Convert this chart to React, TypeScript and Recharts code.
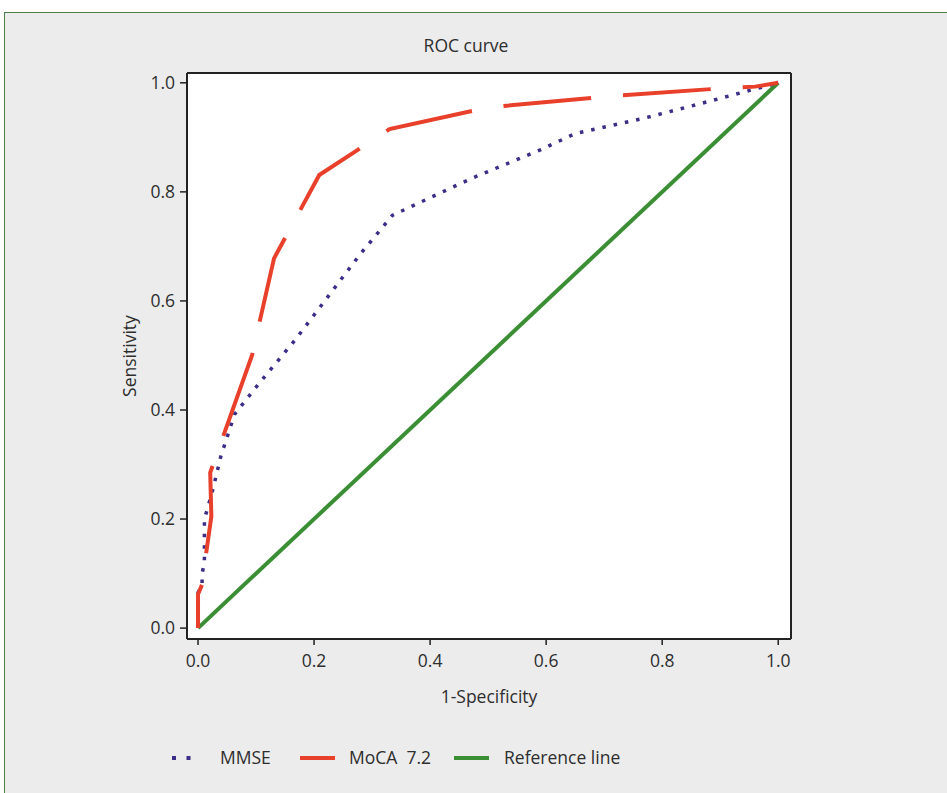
import React from "react";
import {
  LineChart,
  Line,
  XAxis,
  YAxis,
  CartesianGrid,
  Label,
} from "recharts";

// ROC vertices (1-specificity, sensitivity)
const mmseFpr = [0, 0, 0.007, 0.007, 0.011, 0.011, 0.016, 0.026, 0.039, 0.063, 0.107, 0.167, 0.279, 0.335, 0.472, 0.59, 0.65, 0.765, 0.863, 1];
const mmseTpr = [0, 0.065, 0.08, 0.1, 0.12, 0.2, 0.218, 0.256, 0.314, 0.392, 0.451, 0.528, 0.685, 0.757, 0.825, 0.877, 0.907, 0.934, 0.961, 1];

const mocaFpr = [0, 0, 0.007, 0.013, 0.023, 0.021, 0.093, 0.131, 0.209, 0.33, 0.5, 0.73, 0.905, 0.96, 1];
const mocaTpr = [0, 0.062, 0.08, 0.13, 0.205, 0.285, 0.5, 0.678, 0.831, 0.915, 0.955, 0.977, 0.99, 0.993, 1];

const refFpr = [0, 1];
const refTpr = [0, 1];

const axisTicks = [0, 0.2, 0.4, 0.6, 0.8, 1.0];

const seriesNames = ["MMSE", "MoCA  7.2", "Reference line"];
const seriesColors = ["#3b2d88", "#e8402a", "#3a8f34"];

const toPoints = (xs: number[], ys: number[]) =>
  xs.map((x, i) => ({ x, y: ys[i] }));

const mmseData = toPoints(mmseFpr, mmseTpr);
const mocaData = toPoints(mocaFpr, mocaTpr);
const refData = toPoints(refFpr, refTpr);

const FONT = '"Open Sans", "Noto Sans", sans-serif';
const FS = 17.5;
const TEXT = "#2e2e2e";
const X_DOMAIN = [-0.019, 1.022];
const Y_DOMAIN = [-0.02, 1.018];

function LegendRow() {
  const sampleX = [172, 300, 454];
  const labelX = [220, 349, 504];
  return (
    <svg width={947} height={26} style={{ position: "absolute", left: 0, top: 745 }}>
      {sampleX.map((x, i) => (
        <line
          key={seriesNames[i]}
          x1={x}
          x2={x + (i === 0 ? 29 : 35)}
          y1={13}
          y2={13}
          stroke={seriesColors[i]}
          strokeWidth={4}
          strokeDasharray={i === 0 ? "4 10.5" : undefined}
        />
      ))}
      {seriesNames.map((name, i) => (
        <text
          key={name}
          x={labelX[i]}
          y={19}
          fill={TEXT}
          fontSize={FS}
          fontFamily={FONT}
          style={{ whiteSpace: "pre" }}
        >
          {name}
        </text>
      ))}
    </svg>
  );
}

export default function App() {
  return (
    <div
      style={{
        position: "absolute",
        left: 0,
        top: 0,
        width: 947,
        height: 793,
        overflow: "hidden",
        background: "#ffffff",
        fontFamily: FONT,
      }}
    >
      {/* grey panel */}
      <div
        style={{
          position: "absolute",
          left: 4,
          top: 12,
          width: 960,
          height: 800,
          background: "#ebeceb",
          borderLeft: "1px solid #4f7f4f",
          borderTop: "1px solid #4f7f4f",
        }}
      />

      <div
        style={{
          position: "absolute",
          left: 0,
          top: 33,
          width: 932,
          textAlign: "center",
          fontSize: FS,
          color: TEXT,
        }}
      >
        ROC curve
      </div>

      <div style={{ position: "absolute", left: 0, top: 0 }}>
        <LineChart
          width={947}
          height={793}
          margin={{ top: 73, right: 156, bottom: 0, left: 0 }}
        >
          <CartesianGrid horizontal={false} vertical={false} fill="#ffffff" />

          <XAxis
            xAxisId="bottom"
            type="number"
            dataKey="x"
            domain={X_DOMAIN}
            allowDataOverflow
            ticks={axisTicks}
            tickFormatter={(v: number) => v.toFixed(1)}
            height={154}
            tickSize={6}
            tickMargin={10}
            axisLine={{ stroke: "#222", strokeWidth: 2 }}
            tickLine={{ stroke: "#222", strokeWidth: 1.5 }}
            tick={{ fill: TEXT, fontSize: FS, fontFamily: FONT }}
          >
            <Label
              value="1-Specificity"
              position="insideTop"
              offset={52}
              style={{ fill: TEXT, fontSize: FS, fontFamily: FONT }}
            />
          </XAxis>
          <XAxis
            xAxisId="top"
            orientation="top"
            type="number"
            dataKey="x"
            mirror
            domain={X_DOMAIN}
            allowDataOverflow
            ticks={axisTicks}
            tick={false}
            tickSize={4}
            axisLine={{ stroke: "#222", strokeWidth: 2 }}
            tickLine={{ stroke: "#222", strokeWidth: 1.5 }}
          />

          <YAxis
            yAxisId="left"
            type="number"
            dataKey="y"
            domain={Y_DOMAIN}
            allowDataOverflow
            ticks={axisTicks}
            tickFormatter={(v: number) => v.toFixed(1)}
            width={187}
            tickSize={7}
            tickMargin={5}
            axisLine={{ stroke: "#222", strokeWidth: 2 }}
            tickLine={{ stroke: "#222", strokeWidth: 1.5 }}
            tick={{ fill: TEXT, fontSize: FS, fontFamily: FONT }}
          >
            <Label
              value="Sensitivity"
              position="insideLeft"
              angle={-90}
              offset={130}
              style={{ fill: TEXT, fontSize: FS, fontFamily: FONT, textAnchor: "middle" }}
            />
          </YAxis>
          <YAxis
            yAxisId="right"
            orientation="right"
            type="number"
            dataKey="y"
            mirror
            domain={Y_DOMAIN}
            allowDataOverflow
            ticks={axisTicks}
            tick={false}
            tickSize={4}
            axisLine={{ stroke: "#222", strokeWidth: 2 }}
            tickLine={{ stroke: "#222", strokeWidth: 1.5 }}
          />

          <Line
            xAxisId="bottom"
            yAxisId="left"
            data={refData}
            dataKey="y"
            type="linear"
            stroke={seriesColors[2]}
            strokeWidth={4}
            dot={false}
            activeDot={false}
            isAnimationActive={false}
            name={seriesNames[2]}
          />
          <Line
            xAxisId="bottom"
            yAxisId="left"
            data={mmseData}
            dataKey="y"
            type="linear"
            stroke={seriesColors[0]}
            strokeWidth={3.5}
            strokeDasharray="3.5 8"
            dot={false}
            activeDot={false}
            isAnimationActive={false}
            name={seriesNames[0]}
          />
          <Line
            xAxisId="bottom"
            yAxisId="left"
            data={mocaData}
            dataKey="y"
            type="linear"
            stroke={seriesColors[1]}
            strokeWidth={4}
            strokeDasharray="88 32"
            strokeDashoffset={44}
            dot={false}
            activeDot={false}
            isAnimationActive={false}
            name={seriesNames[1]}
          />
        </LineChart>
      </div>

      <LegendRow />
    </div>
  );
}
